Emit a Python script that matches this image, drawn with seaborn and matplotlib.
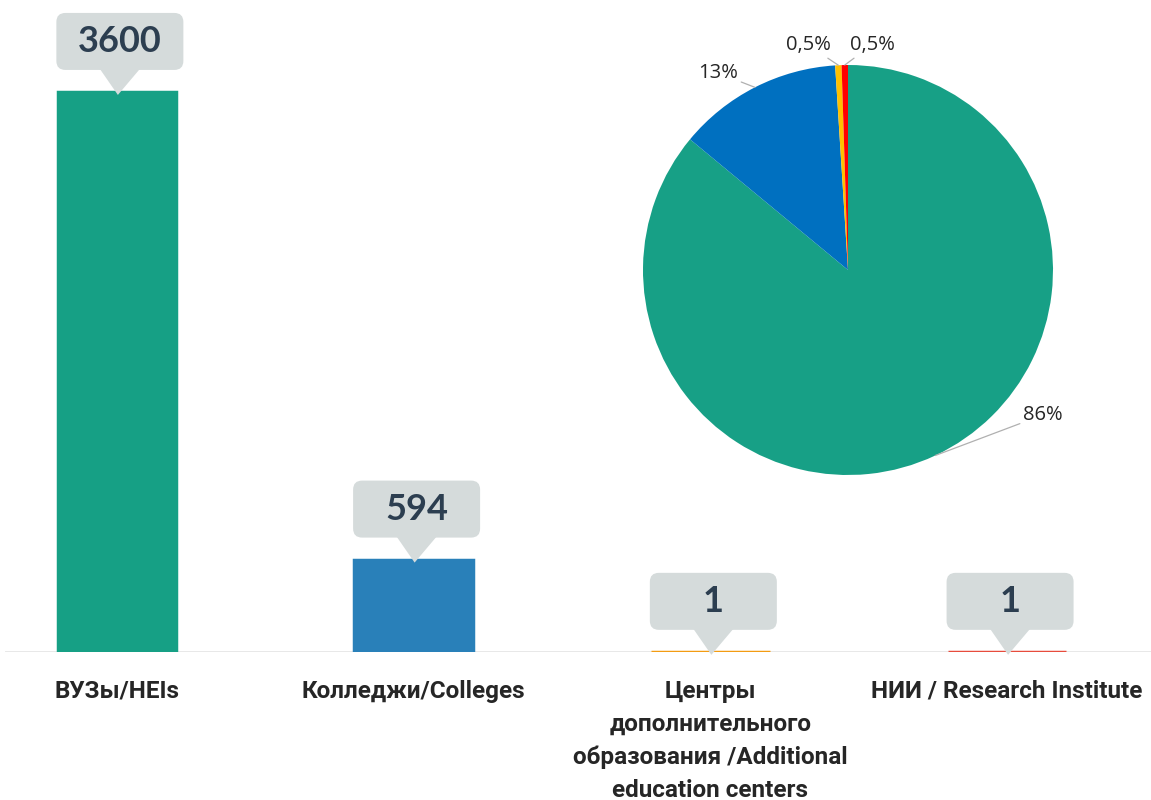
import numpy as np
import matplotlib
matplotlib.use('Agg')
import matplotlib.pyplot as plt
import seaborn as sns
from matplotlib.patches import FancyBboxPatch, Polygon
from matplotlib.transforms import IdentityTransform

# данные
categories = ['ВУЗы/HEIs', 'Колледжи/Colleges',
              'Центры\nдополнительного\nобразования /Additional\neducation centers',
              'НИИ / Research Institute']
counts = [3600, 594, 1, 1]
bar_colors = ['#16a085', '#2980b9', '#f39c12', '#e74c3c']

pie_shares = [86, 13, 0.5, 0.5]
pie_labels = ['86%', '13%', '0,5%', '0,5%']
pie_colors = ['#17a086', '#0070c0', '#ffc000', '#ff0000']
# положения подписей (в координатах круга)
pie_label_pos = [(0.951, -0.707), (-0.634, 0.961), (-0.195, 1.098), (0.117, 1.098)]

sns.set_style('white')
plt.rcParams['font.family'] = ['Lato', 'Open Sans', 'DejaVu Sans']
label_font = ['Liberation Sans Narrow', 'Roboto', 'Open Sans', 'DejaVu Sans']

W, H = 1151, 800
fig = plt.figure(figsize=(W / 100, H / 100), dpi=100)

# столбчатая диаграмма
ax = fig.add_axes([5 / W, 148 / H, (W - 5) / W, 652 / H])
ax.axhline(0, color='#e6e6e6', lw=2, zorder=0)
sns.barplot(x=categories, y=counts, hue=categories, palette=bar_colors,
            width=0.4, legend=False, ax=ax, saturation=1)
for bar, c in zip(ax.patches, bar_colors):
    bar.set_edgecolor(c)
    bar.set_linewidth(2.5)
    bar.set_zorder(3)
ax.set_xlim(-0.377, 3.485)
ax.set_ylim(0, 4191)
ax.set_yticks([])
ax.set_ylabel('')
sns.despine(ax=ax, left=True, bottom=True)
ax.tick_params(axis='x', length=0, pad=20)
ax.set_xticks(range(len(categories)))
ax.set_xticklabels(categories, fontsize=17.5, fontweight='bold', color='#262626',
                   family=label_font, linespacing=1.55)

# выноски с числами
fig.canvas.draw()
for i, v in enumerate(counts):
    x, top = ax.transData.transform((i, v))
    cx = x + 3
    bw, bh = 127, 57
    tip = top - 3
    bottom = top + 22
    box = FancyBboxPatch((cx - bw / 2, bottom), bw, bh,
                         boxstyle='round,pad=0,rounding_size=9',
                         facecolor='#d5dbdb', edgecolor='none',
                         transform=IdentityTransform(), clip_on=False, zorder=5)
    tri = Polygon([(cx - 20, bottom + 1), (cx + 20, bottom + 1), (x + 1, tip)],
                  closed=True, facecolor='#d5dbdb', edgecolor='none',
                  transform=IdentityTransform(), clip_on=False, zorder=5)
    fig.add_artist(box)
    fig.add_artist(tri)
    fig.text(cx / W, (bottom + bh / 2) / H, str(v), ha='center', va='center',
             fontsize=26, fontweight='bold', color='#2c3e50',
             family=['Lato', 'DejaVu Sans'], zorder=6)

# круговая диаграмма
pax = fig.add_axes([643 / W, 325 / H, 410 / W, 410 / H])
wedges, _ = pax.pie(pie_shares, colors=pie_colors, startangle=90,
                    counterclock=False, radius=1,
                    wedgeprops=dict(linewidth=0, edgecolor='none'))
pax.set_xlim(-1, 1)
pax.set_ylim(-1, 1)
pax.set_aspect('equal')
for w, lab, pos in zip(wedges, pie_labels, pie_label_pos):
    ang = np.deg2rad((w.theta1 + w.theta2) / 2)
    pax.annotate(lab, xy=(np.cos(ang), np.sin(ang)), xytext=pos,
                 ha='center', va='center', fontsize=14.5, color='#262626',
                 family=['Open Sans', 'DejaVu Sans'],
                 annotation_clip=False,
                 arrowprops=dict(arrowstyle='-', color='#b0b0b0', lw=0.9,
                                 shrinkA=0, shrinkB=0))

fig.savefig('out.png', dpi=100)
